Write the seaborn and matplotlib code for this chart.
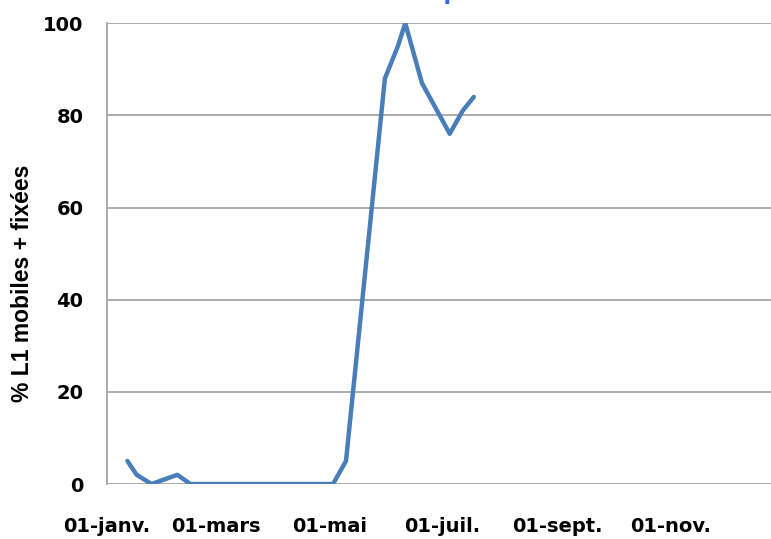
import pandas as pd
import seaborn as sns
import matplotlib.pyplot as plt

# Sampling dates and % of L1 larvae (mobile + fixed)
dates = ["2011-01-12", "2011-01-17", "2011-01-25", "2011-02-08", "2011-02-15",
         "2011-03-01", "2011-03-15", "2011-03-29", "2011-04-12", "2011-04-26",
         "2011-05-03", "2011-05-10", "2011-05-31", "2011-06-07", "2011-06-11",
         "2011-06-20", "2011-07-05", "2011-07-12", "2011-07-18"]
pct_l1 = [5, 2, 0, 2, 0,
          0, 0, 0, 0, 0,
          0, 5, 88, 95, 100,
          87, 76, 81, 84]

tick_dates = ["2011-01-01", "2011-03-01", "2011-05-01", "2011-07-01", "2011-09-01", "2011-11-01"]
tick_labels = ["01-janv.", "01-mars", "01-mai", "01-juil.", "01-sept.", "01-nov."]
y_ticks = [0, 20, 40, 60, 80, 100]

df = pd.DataFrame({"date": pd.to_datetime(dates), "pct": pct_l1})

sns.set_style("white")
fig = plt.figure(figsize=(7.71, 5.39), dpi=100)
ax = fig.add_axes([0.1388, 0.102, 0.877, 0.855])

sns.lineplot(data=df, x="date", y="pct", color="#4a7ebb", linewidth=3.2, ax=ax)

ax.set_xlim(pd.Timestamp("2011-01-01"), pd.Timestamp("2012-01-01"))
ax.set_ylim(0, 100)
ax.set_xticks(pd.to_datetime(tick_dates))
ax.set_xticklabels(tick_labels, fontsize=14, fontweight="bold", family="DejaVu Sans")
ax.set_yticks(y_ticks)
ax.set_yticklabels([str(v) for v in y_ticks], fontsize=14, fontweight="bold", family="DejaVu Sans")

# Excel-like gray gridlines and axis
ax.grid(axis="y", color="#a6a6a6", linewidth=1.3)
ax.grid(axis="x", visible=False)
for side in ["top", "right", "bottom"]:
    ax.spines[side].set_visible(False)
ax.spines["left"].set_color("#a6a6a6")
ax.spines["left"].set_linewidth(1.3)
ax.set_axisbelow(True)
ax.tick_params(axis="both", direction="out", length=5, width=1.3,
               color="#a6a6a6", labelcolor="black")
ax.tick_params(axis="x", pad=18, length=6)
ax.tick_params(axis="y", pad=12)

ax.set_xlabel("")
ax.set_ylabel("")
fig.text(23 / 771, 1 - 283 / 539, "% L1 mobiles + fixées", rotation=90,
         ha="center", va="center", fontsize=16.5, fontweight="bold",
         family="Liberation Sans", color="black")

# Title sits almost entirely above the visible area, as in the source
fig.text(0.57, 1 - 0.5 / 539, "Souche de cochenille à quinoléine : Saint-Aubin",
         ha="center", va="baseline", fontsize=16, fontweight="bold", color="#3366ff")

fig.savefig("out.png", dpi=100)
